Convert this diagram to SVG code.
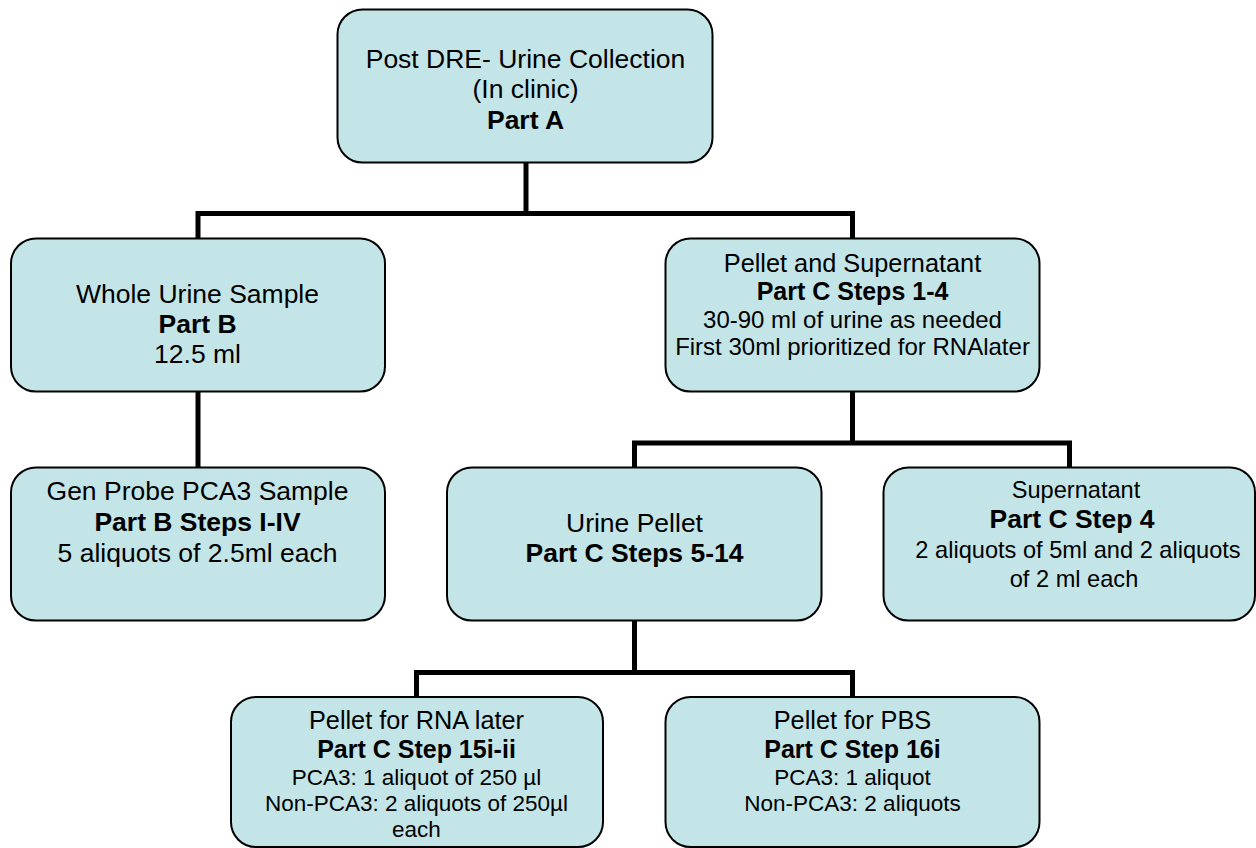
<svg xmlns="http://www.w3.org/2000/svg" width="1256" height="848" viewBox="0 0 1256 848">
<style>
.box{fill:#C4E5E7;stroke:#000;stroke-width:2}
.t{font-family:"Liberation Sans",Arial,sans-serif;fill:#000;text-anchor:middle}
.n{font-size:26.5px}
.b{font-size:26.5px;font-weight:bold}
.m{font-size:25.3px}
.mb{font-size:25px;font-weight:bold}
.s{font-size:24px}
.sn{font-size:23.6px}
.xs{font-size:22.5px}
.conn{fill:none;stroke:#000;stroke-width:5;stroke-linecap:butt;stroke-linejoin:miter}
</style>
<rect width="1256" height="848" fill="#fff"/>
<g id="connectors">
<polyline class="conn" points="526,163 526,213.5"/>
<polyline class="conn" points="198,239 198,213.5 852.5,213.5 852.5,239"/>
<polyline class="conn" points="198,392 198,468"/>
<polyline class="conn" points="852.5,392 852.5,443"/>
<polyline class="conn" points="634.5,468 634.5,443 1069.5,443 1069.5,468"/>
<polyline class="conn" points="634.5,621 634.5,672.5"/>
<polyline class="conn" points="416.5,697 416.5,672.5 852.5,672.5 852.5,697"/>
</g>
<g id="node-a">
<rect class="box" x="337.5" y="9.5" width="375" height="153" rx="25"/>
<text class="t n" x="525.5" y="67.5">Post DRE- Urine Collection</text>
<text class="t n" x="525.5" y="98">(In clinic)</text>
<text class="t b" x="525.5" y="128.5">Part A</text>
</g>
<g id="node-whole">
<rect class="box" x="11" y="238.5" width="374" height="153" rx="25"/>
<text class="t n" x="197.5" y="303">Whole Urine Sample</text>
<text class="t b" x="197.5" y="333">Part B</text>
<text class="t n" x="197.5" y="363">12.5 ml</text>
</g>
<g id="node-pellet-super">
<rect class="box" x="665.5" y="238.5" width="374" height="153" rx="25"/>
<text class="t m" x="852.5" y="271.5">Pellet and Supernatant</text>
<text class="t mb" x="852.5" y="300">Part C Steps 1-4</text>
<text class="t s" x="852.5" y="327.5">30-90 ml of urine as needed</text>
<text class="t s" x="852.5" y="355">First 30ml prioritized for RNAlater</text>
</g>
<g id="node-genprobe">
<rect class="box" x="11" y="467.5" width="374" height="153" rx="25"/>
<text class="t n" x="197.5" y="500">Gen Probe PCA3 Sample</text>
<text class="t b" x="197.5" y="531">Part B Steps I-IV</text>
<text class="t n" x="197.5" y="562">5 aliquots of 2.5ml each</text>
</g>
<g id="node-urine-pellet">
<rect class="box" x="447" y="467.5" width="374.5" height="153" rx="25"/>
<text class="t n" x="634.5" y="531.5">Urine Pellet</text>
<text class="t b" x="634.5" y="561.5">Part C Steps 5-14</text>
</g>
<g id="node-supernatant">
<rect class="box" x="883.5" y="467.5" width="371.5" height="153" rx="25"/>
<text class="t sn" x="1076" y="498">Supernatant</text>
<text class="t b" x="1072" y="528">Part C Step 4</text>
<text class="t sn" x="1078" y="558">2 aliquots of 5ml and 2 aliquots</text>
<text class="t sn" x="1074" y="587">of 2 ml each</text>
</g>
<g id="node-rnalater">
<rect class="box" x="231" y="697" width="372" height="150" rx="25"/>
<text class="t m" x="416.5" y="729">Pellet for RNA later</text>
<text class="t mb" x="416.5" y="758">Part C Step 15i-ii</text>
<text class="t xs" x="416.5" y="785">PCA3: 1 aliquot of 250 µl</text>
<text class="t xs" x="416.5" y="811">Non-PCA3: 2 aliquots of 250µl</text>
<text class="t xs" x="416.5" y="837">each</text>
</g>
<g id="node-pbs">
<rect class="box" x="665.5" y="697" width="374" height="150" rx="25"/>
<text class="t m" x="852.5" y="729">Pellet for PBS</text>
<text class="t mb" x="852.5" y="758">Part C Step 16i</text>
<text class="t xs" x="852.5" y="785">PCA3: 1 aliquot</text>
<text class="t xs" x="852.5" y="811">Non-PCA3: 2 aliquots</text>
</g>
</svg>
